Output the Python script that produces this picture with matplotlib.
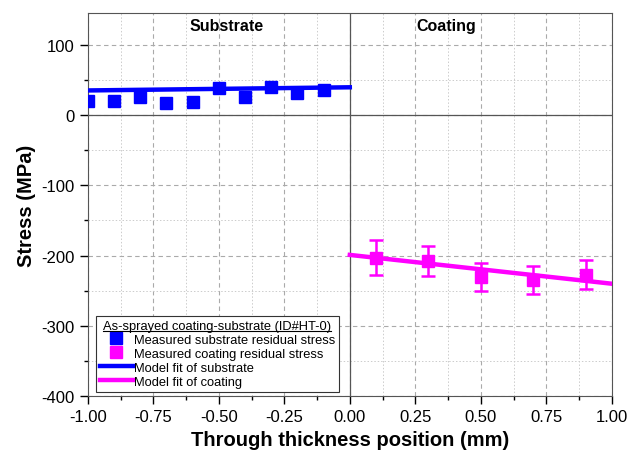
import matplotlib
matplotlib.use('Agg')
import matplotlib.pyplot as plt
import matplotlib.lines as mlines
from matplotlib.ticker import MultipleLocator

plt.rcParams['font.family'] = ['Liberation Sans', 'DejaVu Sans']
plt.rcParams['axes.unicode_minus'] = False

# substrate measurements
sub_x = [-1.0, -0.9, -0.8, -0.7, -0.6, -0.5, -0.4, -0.3, -0.2, -0.1]
sub_y = [20, 19.5, 25, 17.5, 18, 38, 25, 39.5, 32, 36]
sub_err = [5, 4, 5, 4, 4, 5, 5, 5, 8, 5]
# coating measurements
coat_x = [0.1, 0.3, 0.5, 0.7, 0.9]
coat_y = [-203, -208, -230, -235, -227]
coat_err = [25, 21, 20, 20, 21]
# model fits
fit_sub_x = [-1.0, 0.0]
fit_sub_y = [35, 39.5]
fit_coat_x = [0.0, 1.0]
fit_coat_y = [-199, -240]

blue = '#0000ff'
mag = '#ff00ff'

fig = plt.figure(figsize=(6.32, 4.56), dpi=100)
ax = fig.add_axes([0.139, 0.129, 0.829, 0.840])

ax.plot(fit_sub_x, fit_sub_y, color=blue, lw=3.2, zorder=3)
ax.plot(fit_coat_x, fit_coat_y, color=mag, lw=3.2, zorder=3)
ax.errorbar(sub_x, sub_y, yerr=sub_err, fmt='s', color=blue, ms=8,
            capsize=4, elinewidth=1.8, capthick=1.8, zorder=4)
ax.errorbar(coat_x, coat_y, yerr=coat_err, fmt='s', color=mag, ms=9,
            capsize=5, elinewidth=1.8, capthick=1.8, zorder=4)

ax.axvline(0, color='#555555', lw=0.9, zorder=2)
ax.axhline(0, color='#555555', lw=0.9, zorder=2)

ax.set_xlim(-1, 1)
ax.set_ylim(-400, 145)
ax.xaxis.set_major_locator(MultipleLocator(0.25))
ax.xaxis.set_minor_locator(MultipleLocator(0.125))
ax.yaxis.set_major_locator(MultipleLocator(100))
ax.yaxis.set_minor_locator(MultipleLocator(50))
ax.xaxis.set_major_formatter(matplotlib.ticker.FormatStrFormatter('%.2f'))
ax.grid(which='major', color='#aaaaaa', ls=(0, (4, 3)), lw=0.8)
ax.grid(which='minor', color='#cccccc', ls=(0, (1.5, 2)), lw=0.7)
ax.set_axisbelow(True)
ax.tick_params(which='major', direction='out', length=6, width=1, labelsize=12, top=False, right=False)
ax.tick_params(which='minor', direction='out', length=3, width=1, top=False, right=False)
for s in ax.spines.values():
    s.set_color('#555555')

ax.set_xlabel('Through thickness position (mm)', fontsize=14.5, fontweight='bold')
ax.set_ylabel('Stress (MPa)', fontsize=14.5, fontweight='bold')

ax.text(-0.47, 128, 'Substrate', ha='center', va='center', fontsize=11.5, fontweight='bold')
ax.text(0.37, 128, 'Coating', ha='center', va='center', fontsize=11.5, fontweight='bold')

h1 = mlines.Line2D([], [], color=blue, marker='s', ls='none', ms=9)
h2 = mlines.Line2D([], [], color=mag, marker='s', ls='none', ms=9)
h3 = mlines.Line2D([], [], color=blue, lw=3.2)
h4 = mlines.Line2D([], [], color=mag, lw=3.2)
leg = ax.legend([h1, h2, h3, h4],
                ['Measured substrate residual stress', 'Measured coating residual stress',
                 'Model fit of substrate', 'Model fit of coating'],
                title='As-sprayed coating-substrate (ID#HT-0)', loc='lower left',
                bbox_to_anchor=(0.015, 0.012), borderaxespad=0, fontsize=9.3, title_fontsize=9.3,
                handlelength=2.6, handletextpad=0.05, labelspacing=0.15,
                borderpad=0.3, fancybox=False, framealpha=1, edgecolor='#333333')
leg.get_frame().set_linewidth(0.8)

# underline legend title
fig.canvas.draw()
bb = leg.get_title().get_window_extent().transformed(fig.transFigure.inverted())
fig.add_artist(mlines.Line2D([bb.x0, bb.x1], [bb.y0 + 0.002, bb.y0 + 0.002],
                             color='black', lw=0.8, transform=fig.transFigure))

fig.savefig('out.png', dpi=100)
